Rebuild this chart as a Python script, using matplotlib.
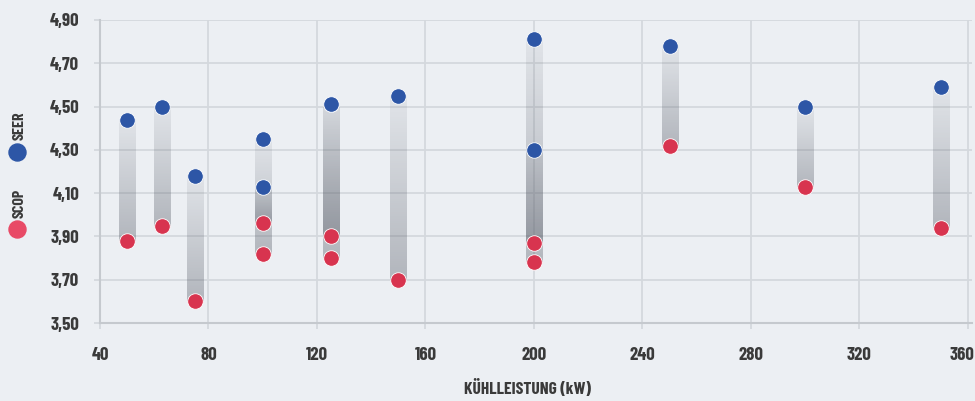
import numpy as np
import matplotlib.pyplot as plt
from matplotlib.transforms import ScaledTranslation

plt.rcParams['font.family'] = ['Barlow Condensed', 'Fjalla One', 'DejaVu Sans']
plt.rcParams['font.weight'] = 'bold'

# Daten: Kühlleistung (kW), SEER und SCOP je Gerät
kuehlleistung = [50, 63, 75, 100, 100, 125, 125, 150, 200, 200, 250, 300, 350]
seer = [4.44, 4.50, 4.18, 4.35, 4.13, 4.51, 4.51, 4.55, 4.81, 4.30, 4.78, 4.50, 4.59]
scop = [3.88, 3.95, 3.60, 3.82, 3.96, 3.90, 3.80, 3.70, 3.87, 3.78, 4.32, 4.13, 3.94]

x_ticks = [40, 80, 120, 160, 200, 240, 280, 320, 360]
y_ticks = [3.50, 3.70, 3.90, 4.10, 4.30, 4.50, 4.70, 4.90]

bg = '#eceff3'
blau = '#2d56a6'
rot = '#d8344f'
text_col = '#3a3a3a'
grid_col = '#d4d8dd'

fig = plt.figure(figsize=(9.75, 4.01), dpi=100, facecolor=bg)
ax = fig.add_axes([100 / 975, 78 / 401, 872 / 975, 303 / 401])
ax.set_facecolor(bg)

# Balken mit Farbverlauf (hell oben, dunkel unten)
bar_w = 5.9
n = 64
grad = np.zeros((n, 1, 4))
grad[:, 0, 0] = 0.36
grad[:, 0, 1] = 0.38
grad[:, 0, 2] = 0.42
grad[:, 0, 3] = np.linspace(0.08, 0.40, n)
for x, hi, lo in zip(kuehlleistung, seer, scop):
    ax.imshow(grad, extent=[x - bar_w / 2, x + bar_w / 2, lo, hi],
              aspect='auto', origin='upper', zorder=2, interpolation='bilinear')

ax.scatter(kuehlleistung, scop, s=125, color=rot, edgecolors='white',
           linewidths=0.6, zorder=4)
ax.scatter(kuehlleistung, seer, s=125, color=blau, edgecolors='white',
           linewidths=0.6, zorder=4)

ax.set_xlim(40, 361.5)
ax.set_ylim(3.5, 4.9)
ax.set_xticks(x_ticks)
ax.set_yticks(y_ticks)
ax.set_yticklabels([f'{v:.2f}'.replace('.', ',') for v in y_ticks])
ax.grid(True, color=grid_col, linewidth=1.3, zorder=0)
ax.set_axisbelow(True)

for side in ['top', 'right']:
    ax.spines[side].set_visible(False)
for side in ['left', 'bottom']:
    ax.spines[side].set_color('#c5c9ce')
    ax.spines[side].set_linewidth(1.5)

ax.tick_params(axis='both', colors=grid_col, length=4, width=1.3,
               labelcolor=text_col, labelsize=13.5)
ax.tick_params(axis='y', pad=11)
ax.tick_params(axis='x', pad=13)

# letzte Beschriftung etwas nach links, damit sie nicht abgeschnitten wird
last = ax.get_xticklabels()[-1]
last.set_transform(last.get_transform() + ScaledTranslation(-6 / 100, 0, fig.dpi_scale_trans))

fig.text(527 / 975, 1 - 388 / 401, 'KÜHLLEISTUNG (kW)', fontsize=12.5,
         color=text_col, ha='center', va='center')

# Legende links, gedreht
fig.text(20 / 975, 1 - 126 / 401, 'SEER', rotation=90, fontsize=11.5,
         color=text_col, ha='center', va='center')
fig.text(20 / 975, 1 - 203 / 401, 'SCOP', rotation=90, fontsize=11.5,
         color=text_col, ha='center', va='center')
ax.scatter([17 / 975], [1 - 152 / 401], s=150, color=blau,
           transform=fig.transFigure, clip_on=False)
ax.scatter([17 / 975], [1 - 229 / 401], s=150, color='#e84a66',
           transform=fig.transFigure, clip_on=False)

fig.savefig('out.png', dpi=100, facecolor=bg)
